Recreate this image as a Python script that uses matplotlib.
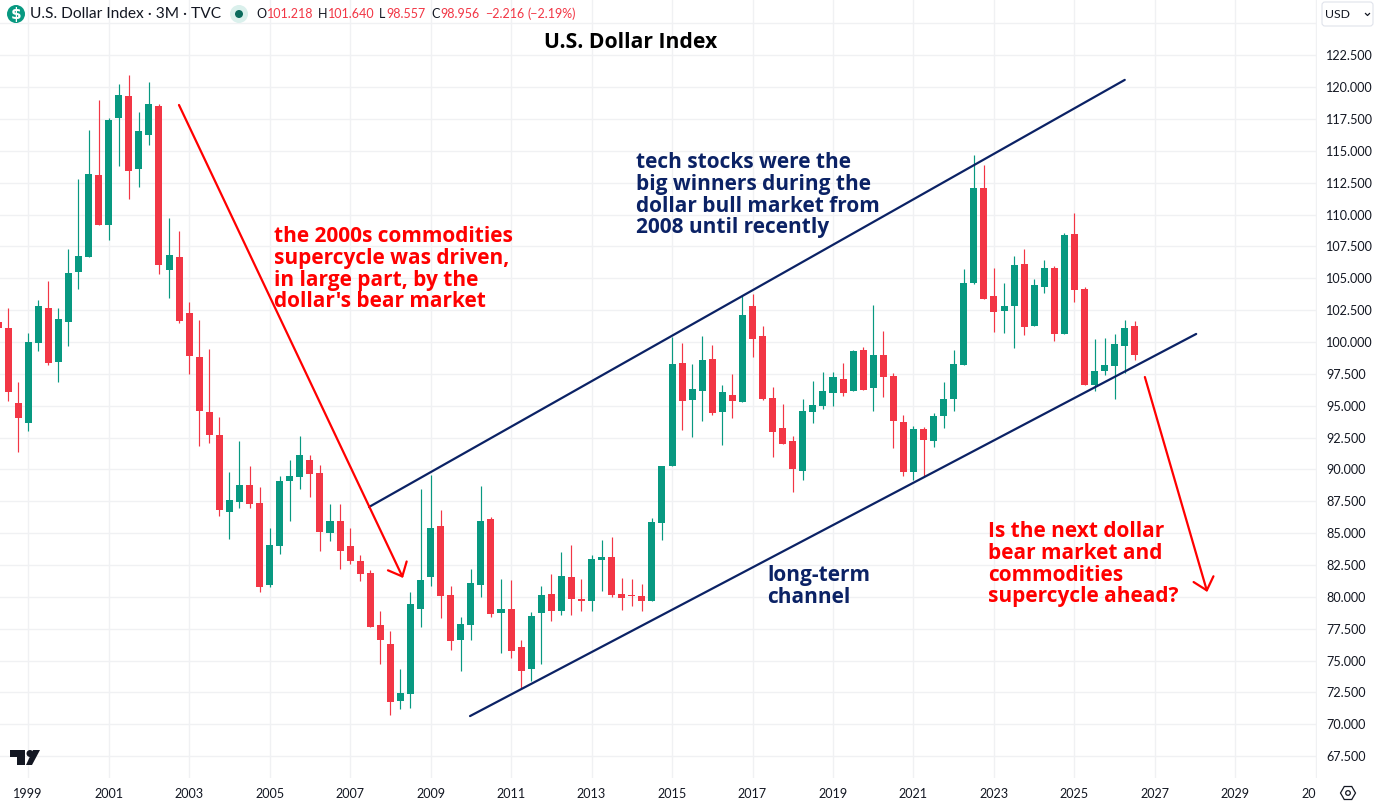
import numpy as np
import matplotlib
matplotlib.use('Agg')
import matplotlib.pyplot as plt
from matplotlib.patches import Circle, FancyBboxPatch, Polygon, RegularPolygon

# quarterly candles, first bar is 1998 Q2
first_year = 1998.25
opens = [101.6, 101.1, 95.2, 93.67, 99.95, 102.67, 98.45, 101.57, 105.5, 106.67, 113.11, 109.18,
         117.58, 119.3, 113.58, 116.25, 118.52, 105.65, 106.67, 102.28, 98.82, 94.5, 92.7, 86.66,
         87.44, 88.78, 87.36, 80.93, 83.99, 89.09, 89.4, 90.74, 89.72, 85.0, 85.95, 83.99,
         82.81, 81.87, 77.79, 76.3, 71.82, 72.37, 79.04, 81.55, 85.56, 80.14, 76.61, 77.79,
         80.93, 86.1, 78.73, 79.04, 76.06, 74.33, 78.73, 80.22, 78.89, 81.55, 79.83, 79.67,
         82.89, 83.12, 80.22, 80.14, 80.06, 79.67, 85.79, 90.27, 98.35, 95.45, 96.15, 98.67,
         94.5, 95.84, 95.29, 102.83, 100.47, 95.6, 93.25, 92.23, 89.87, 94.5, 94.97, 96.0,
         97.1, 96.15, 99.37, 96.39, 98.98, 97.33, 93.72, 89.8, 93.17, 92.23, 94.19, 95.53,
         98.19, 104.63, 112.09, 103.6, 102.43, 102.83, 106.12, 101.26, 104.32, 105.8, 100.63, 108.48,
         104.16, 96.62, 97.72, 98.12, 99.69, 101.218]
highs = [102.2, 102.67, 96.86, 100.7, 103.3, 104.79, 102.67, 107.3, 112.8, 116.64, 119.0, 117.58,
         120.25, 120.96, 118.05, 120.4, 118.68, 109.73, 108.7, 103.14, 101.73, 99.45, 94.1, 89.8,
         92.23, 90.27, 88.6, 85.4, 89.48, 90.74, 92.62, 91.13, 90.35, 87.28, 87.28, 85.4,
         83.28, 82.1, 78.89, 77.32, 74.33, 80.38, 88.46, 89.56, 86.81, 80.85, 78.41, 82.18,
         88.7, 86.26, 81.4, 81.32, 76.61, 78.81, 80.85, 81.79, 83.52, 84.07, 81.4, 83.28,
         84.46, 84.69, 81.48, 81.4, 81.0, 86.18, 90.3, 100.39, 99.92, 98.27, 100.47, 99.76,
         96.62, 97.49, 103.6, 103.77, 101.26, 96.47, 95.13, 92.62, 95.53, 96.94, 97.65, 97.65,
         98.35, 99.37, 99.6, 102.9, 100.86, 97.57, 94.27, 93.41, 93.33, 94.43, 96.86, 99.37,
         105.73, 114.68, 113.89, 105.8, 104.63, 106.75, 107.3, 104.95, 106.44, 105.97, 108.56, 110.13,
         104.32, 100.24, 100.31, 100.63, 101.73, 101.64]
lows = [101.0, 95.37, 91.37, 93.04, 99.3, 98.2, 96.88, 99.7, 104.16, 106.67, 109.18, 108.0,
        113.8, 111.22, 112.17, 115.46, 105.34, 103.45, 101.5, 97.49, 91.84, 92.07, 86.34, 84.54,
        86.97, 86.97, 80.38, 80.77, 83.36, 85.95, 88.46, 87.83, 83.6, 84.38, 82.18, 82.57,
        81.24, 77.63, 74.73, 70.72, 71.19, 71.27, 77.63, 80.85, 78.34, 75.82, 74.18, 76.61,
        79.98, 78.41, 75.59, 75.2, 72.76, 73.39, 74.73, 78.1, 78.57, 78.57, 78.89, 78.89,
        80.46, 79.98, 78.96, 79.28, 78.89, 79.67, 84.46, 90.27, 93.09, 92.54, 93.8, 94.27,
        91.92, 94.03, 95.29, 98.82, 95.45, 90.97, 91.99, 88.23, 89.17, 93.64, 94.74, 94.97,
        95.76, 96.15, 96.23, 94.58, 95.68, 91.68, 89.48, 89.17, 89.48, 91.76, 93.25, 94.58,
        98.19, 104.55, 103.38, 100.78, 100.7, 99.53, 100.55, 101.26, 103.85, 100.08, 100.63, 103.14,
        96.62, 96.15, 97.41, 95.53, 97.57, 98.557]
closes = [101.1, 96.07, 94.06, 100.0, 102.83, 98.38, 101.8, 105.4, 106.75, 113.19, 109.18, 117.43,
          119.39, 113.42, 116.56, 118.68, 106.04, 106.83, 101.65, 98.92, 94.58, 92.7, 86.81, 87.6,
          88.78, 87.28, 80.77, 84.07, 89.09, 89.48, 91.13, 89.64, 85.09, 85.95, 83.6, 82.81,
          81.79, 77.63, 76.6, 71.74, 72.45, 79.43, 81.32, 85.4, 80.06, 76.53, 77.86, 81.08,
          85.95, 78.65, 79.04, 75.75, 74.18, 78.49, 80.14, 78.89, 81.63, 79.83, 79.67, 82.97,
          83.12, 80.14, 79.9, 80.06, 79.67, 85.87, 90.27, 98.27, 95.37, 96.31, 98.59, 94.43,
          96.07, 95.37, 102.12, 100.24, 95.53, 92.94, 91.99, 90.03, 94.58, 95.05, 96.15, 97.25,
          96.0, 99.29, 96.23, 98.98, 97.25, 93.8, 89.8, 93.17, 92.31, 94.19, 95.53, 98.27,
          104.63, 112.09, 103.38, 102.35, 102.83, 106.04, 101.18, 104.47, 105.8, 100.63, 108.4, 104.08,
          96.62, 97.72, 98.19, 99.84, 101.1, 98.956]

price_ticks = [67.5, 70, 72.5, 75, 77.5, 80, 82.5, 85, 87.5, 90, 92.5, 95, 97.5, 100, 102.5, 105,
               107.5, 110, 112.5, 115, 117.5, 120, 122.5]
tick_years = [1999, 2001, 2003, 2005, 2007, 2009, 2011, 2013, 2015, 2017, 2019, 2021, 2023, 2025,
              2027, 2029, 2031]

# drawn lines, x in bars from the first candle, y in index points
upper_x, upper_y = [36.88, 112.0], [87.05, 120.57]
lower_x, lower_y = [46.92, 119.1], [70.64, 100.63]
arrow1_x, arrow1_y = [17.99, 40.26], [118.6, 81.48]
arrow2_x, arrow2_y = [114.0, 120.2], [97.25, 80.38]

GREEN = '#089981'
RED = '#f23645'
NAVY = '#0b2265'
TEXT = '#131722'
GRID = '#f0f1f3'

W, H = 1375, 805
plt.rcParams['font.family'] = ['Lato', 'DejaVu Sans']
fig = plt.figure(figsize=(W / 100, H / 100), dpi=100, facecolor='white')

ax = fig.add_axes([0, 1 - 778 / H, 1317 / W, 778 / H])
x = np.arange(len(opens))
o, h, l, c = map(np.array, (opens, highs, lows, closes))
colors = np.where(c >= o, GREEN, RED)

ax.vlines(x, l, h, colors=colors, linewidth=0.85, zorder=2)
ax.bar(x, c - o, bottom=o, width=0.7, color=colors, linewidth=0, zorder=3)

ax.plot(upper_x, upper_y, color=NAVY, lw=1.6, zorder=4, solid_capstyle='round')
ax.plot(lower_x, lower_y, color=NAVY, lw=1.6, zorder=4, solid_capstyle='round')
for ax_, ay_ in ((arrow1_x, arrow1_y), (arrow2_x, arrow2_y)):
    ax.annotate('', xy=(ax_[1], ay_[1]), xytext=(ax_[0], ay_[0]), zorder=4,
                arrowprops=dict(arrowstyle='->,head_length=0.7,head_width=0.62', color='#ff0000',
                                lw=1.6, shrinkA=0, shrinkB=0, mutation_scale=12))

ax.set_xlim(0.199, 131.11)
ax.set_ylim(65.78, 126.84)
ax.set_yticks(np.arange(67.5, 126, 2.5), minor=True)
ax.set_yticks(price_ticks)
ax.set_yticklabels(['%.3f' % p for p in price_ticks])
ax.yaxis.tick_right()
ax.set_xticks((np.array(tick_years) - first_year) * 4)
ax.set_xticklabels([str(y) for y in tick_years[:-1]] + ['20'])
ax.get_xticklabels()[-1].set_ha('right')
ax.grid(True, which='both', color=GRID, lw=1)
ax.set_axisbelow(True)
ax.tick_params(which='both', length=0)
ax.tick_params(axis='y', pad=6.5, labelsize=9.1, labelcolor=TEXT)
ax.tick_params(axis='x', pad=7, labelsize=9.1, labelcolor=TEXT)
for s in ax.spines.values():
    s.set_visible(False)

# overlay in pixels for header and notes
ov = fig.add_axes([0, 0, 1, 1], facecolor='none')
ov.set_xlim(0, W)
ov.set_ylim(H, 0)
ov.axis('off')

ov.add_patch(Circle((16, 14), 9, color=GREEN, lw=0))
ov.text(16, 14, '$', color='white', fontsize=11, weight='bold', ha='center', va='center',
        family='DejaVu Sans', parse_math=False)
ov.text(30, 14, 'U.S. Dollar Index · 3M · TVC', color=TEXT, fontsize=11.2, va='center')
ov.add_patch(Circle((239, 14), 9, color='#daf0ec', lw=0))
ov.add_patch(Circle((239, 14), 4, color='#0a6b5c', lw=0))
for px, s, col in [(256, 'O', TEXT), (267, '101.218', RED), (318, 'H', TEXT), (328, '101.640', RED),
                   (379, 'L', TEXT), (386, '98.557', RED), (431, 'C', TEXT), (440, '98.956', RED),
                   (485, '−2.216', RED), (528, '(−2.19%)', RED)]:
    ov.text(px, 14, s, color=col, fontsize=9.0, va='center')

ov.text(631, 42, 'U.S. Dollar Index', color='black', fontsize=15.2, weight='bold', ha='center',
        va='center', family='Open Sans')

ov.add_patch(FancyBboxPatch((1322, 2), 51, 24, boxstyle='round,pad=0,rounding_size=3', fc='white',
                            ec='#e0e3eb', lw=0.8))
ov.text(1325, 14, 'USD', color=TEXT, fontsize=8.8, va='center')
ov.plot([1365.5, 1367.5, 1369.5], [13.5, 15.5, 13.5], color=TEXT, lw=0.9)
ov.add_patch(RegularPolygon((1348, 793), 6, radius=7.5, orientation=np.pi / 6, fc='none', ec=TEXT, lw=0.9))
ov.add_patch(Circle((1348, 793), 2.3, fc='none', ec=TEXT, lw=0.9))

# TradingView mark
ov.add_patch(Polygon([(10, 750), (25, 750), (25, 765), (17, 765), (17, 757), (10, 757)], color='#131722', lw=0))
ov.add_patch(Circle((30, 753.5), 3.5, color='#131722', lw=0))
ov.add_patch(Polygon([(33, 765), (40, 750), (40, 750), (32, 765), (26, 765), (33, 750), (40, 750)],
                     color='#131722', lw=0))

notes = [(274, 226, "the 2000s commodities\nsupercycle was driven,\nin large part, by the\ndollar's bear market", '#ff0000'),
         (636, 152, 'tech stocks were the\nbig winners during the\ndollar bull market from\n2008 until recently', NAVY),
         (767, 565, 'long-term\nchannel', NAVY),
         (988, 521, 'Is the next dollar\nbear market and\ncommodities\nsupercycle ahead?', '#ff0000')]
for px, py, s, col in notes:
    ov.text(px, py, s, color=col, fontsize=15, weight='bold', va='top', ha='left', linespacing=1.05,
            family='Open Sans')

fig.savefig('out.png', dpi=100)
